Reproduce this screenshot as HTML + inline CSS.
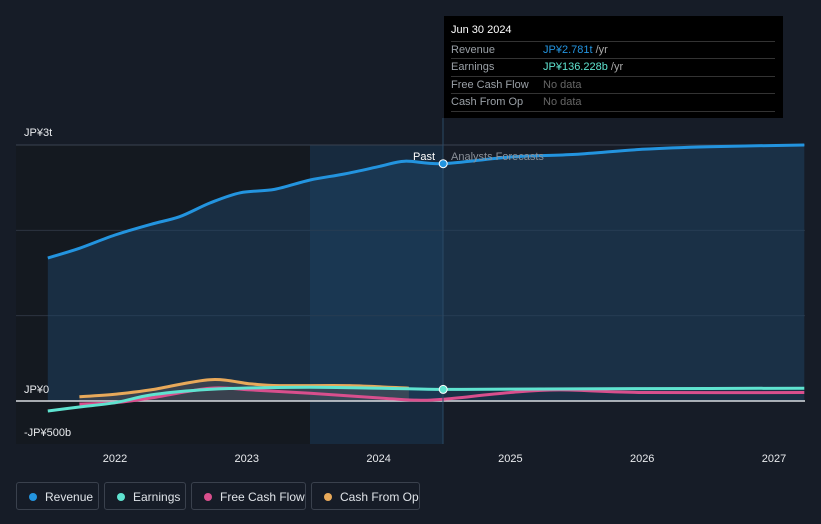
<!DOCTYPE html>
<html><head><meta charset="utf-8"><style>
body{margin:0;background:#161c27;font-family:"Liberation Sans",sans-serif;}
#wrap{position:relative;width:821px;height:524px;overflow:hidden;background:#161c27}
svg text{font-family:"Liberation Sans",sans-serif}
.tt{position:absolute;left:444px;top:16px;width:339px;height:102px;background:#000;color:#fff;font-size:11px}
.tt .row{position:absolute;left:7px;width:324px;border-top:1px solid #333;height:17px;line-height:17px}
.tt .l{color:#9aa0a6;position:absolute;left:0}
.tt .v{position:absolute;left:92px}
.leg{position:absolute;top:482px;height:28px;border:1px solid #3a414d;border-radius:3px;color:#dfe3e8;font-size:12px;line-height:28px;box-sizing:border-box;padding-left:28px}
.leg i{position:absolute;left:12px;top:10px;width:8px;height:8px;border-radius:50%}
</style></head><body>
<div id="wrap">
<svg id="svg" width="821" height="524"></svg>
<div class="tt">
<div style="position:absolute;left:7px;top:8px;font-size:11px">Jun 30 2024</div>
<div class="row" style="top:25px"><span class="l">Revenue</span><span class="v" style="color:#2394df">JP¥2.781t <span style="color:#aaa">/yr</span></span></div>
<div class="row" style="top:42px"><span class="l">Earnings</span><span class="v" style="color:#5fe3d0">JP¥136.228b <span style="color:#aaa">/yr</span></span></div>
<div class="row" style="top:60px"><span class="l">Free Cash Flow</span><span class="v" style="color:#666">No data</span></div>
<div class="row" style="top:77px;border-bottom:1px solid #333"><span class="l">Cash From Op</span><span class="v" style="color:#666">No data</span></div>
</div>
<div class="leg" style="left:16px;width:83px"><i style="background:#2394df"></i>Revenue</div>
<div class="leg" style="left:104px;width:82px"><i style="background:#5fe3d0"></i>Earnings</div>
<div class="leg" style="left:191px;width:115px"><i style="background:#d94f8d"></i>Free Cash Flow</div>
<div class="leg" style="left:311px;width:109px"><i style="background:#e8a95a"></i>Cash From Op</div>
</div>
<script>
const revYears=[2021.49,2021.73,2022.0,2022.27,2022.49,2022.72,2022.95,2023.21,2023.48,2023.74,2024.01,2024.2,2024.49,2025.0,2025.49,2026.0,2026.51,2027.23];
const revVals=[1.676,1.79,1.945,2.07,2.16,2.32,2.44,2.48,2.59,2.66,2.75,2.81,2.781,2.86,2.89,2.95,2.98,3.0];
const earnYears=[2021.49,2021.73,2022.0,2022.27,2022.65,2022.95,2023.48,2024.01,2024.49,2025.0,2026.0,2027.23];
const earnVals=[-0.117,-0.07,-0.02,0.07,0.13,0.15,0.16,0.15,0.136,0.14,0.145,0.15];
const fcfYears=[2021.73,2022.0,2022.27,2022.72,2023.03,2023.48,2024.01,2024.27,2024.49,2025.0,2025.38,2026.0,2027.23];
const fcfVals=[-0.035,-0.02,0.035,0.15,0.13,0.09,0.035,0.01,0.02,0.1,0.13,0.1,0.1];
const cfoYears=[2021.73,2022.0,2022.27,2022.72,2023.03,2023.25,2023.78,2024.23];
const cfoVals=[0.05,0.08,0.13,0.25,0.2,0.18,0.18,0.15];
const yTicks=[3,0,-0.5];const yLabels=["JP¥3t","JP¥0","-JP¥500b"];
const xTicks=[2022,2023,2024,2025,2026,2027];
const X=y=>115+(y-2022)*131.8, Y=v=>401-v*85.33;
const svg=document.getElementById('svg'),NS='http://www.w3.org/2000/svg';
function mk(t,a,p){const e=document.createElementNS(NS,t);for(const k in a)e.setAttribute(k,a[k]);(p||svg).appendChild(e);return e;}
let r=mk('rect',{x:16,y:145,width:294,height:299,fill:'#141920'});


r=mk('rect',{x:310,y:145,width:133,height:299,fill:'#172a3e'});


[1,2].forEach(v=>{const g=mk('line',{x1:16,x2:805,y1:Y(v),y2:Y(v),stroke:'#2c3440'});

});
mk('line',{x1:16,x2:805,y1:Y(3),y2:Y(3),stroke:'#3a4250'});
function path(xs,vs){const P=xs.map((x,i)=>[X(x),Y(vs[i])]);let d='M'+P[0][0].toFixed(1)+','+P[0][1].toFixed(1);
for(let i=0;i<P.length-1;i++){const p0=P[Math.max(0,i-1)],p1=P[i],p2=P[i+1],p3=P[Math.min(P.length-1,i+2)];
const c1x=p1[0]+(p2[0]-p0[0])/6,c1y=p1[1]+(p2[1]-p0[1])/6,c2x=p2[0]-(p3[0]-p1[0])/6,c2y=p2[1]-(p3[1]-p1[1])/6;
d+=` C${c1x.toFixed(1)},${c1y.toFixed(1)} ${c2x.toFixed(1)},${c2y.toFixed(1)} ${p2[0].toFixed(1)},${p2[1].toFixed(1)}`;}return d;}
let a=mk('path',{d:path(revYears,revVals)+` L${X(revYears[revYears.length-1])},${Y(0)} L${X(revYears[0])},${Y(0)} Z`,fill:'#1e4466',opacity:0.5});


a=mk('path',{d:path(cfoYears,cfoVals)+` L${X(cfoYears[cfoYears.length-1])},${Y(0)} L${X(cfoYears[0])},${Y(0)} Z`,fill:'#6a6060',opacity:0.4});


let z=mk('line',{x1:16,x2:805,y1:Y(0),y2:Y(0),stroke:'#d8dce0','stroke-width':1.5});


const series=[[cfoYears,cfoVals,'#e8a95a','cash-from-op-line'],[fcfYears,fcfVals,'#d94f8d','free-cash-flow-line'],[earnYears,earnVals,'#5fe3d0','earnings-line'],[revYears,revVals,'#2394df','revenue-line']];
series.forEach(s=>{const p=mk('path',{d:path(s[0],s[1]),fill:'none',stroke:s[2],'stroke-width':3,'stroke-linejoin':'round'});

});
let vl=mk('line',{x1:443,x2:443,y1:118,y2:444,stroke:'#2a4a66'});


[[revVals[12],'#2394df','revenue-marker'],[earnVals[8],'#5fe3d0','earnings-marker']].forEach(m=>{const c=mk('circle',{cx:X(2024.49),cy:Y(m[0]),r:4,fill:m[1],stroke:'#fff','stroke-width':1});

});
let t=mk('text',{x:435,y:160,fill:'#fff','font-size':11,'text-anchor':'end'});t.textContent='Past';


t=mk('text',{x:451,y:160,fill:'#8a9099','font-size':11});t.textContent='Analysts Forecasts';


const yLabelY=[136,393,436];
yTicks.forEach((v,i)=>{const tt=mk('text',{x:24,y:yLabelY[i],fill:'#e8eaed','font-size':11});tt.textContent=yLabels[i];

});
xTicks.forEach(v=>{const tt=mk('text',{x:X(v),y:462,fill:'#e8eaed','font-size':11,'text-anchor':'middle'});tt.textContent=v;

});
</script>
</body></html>
